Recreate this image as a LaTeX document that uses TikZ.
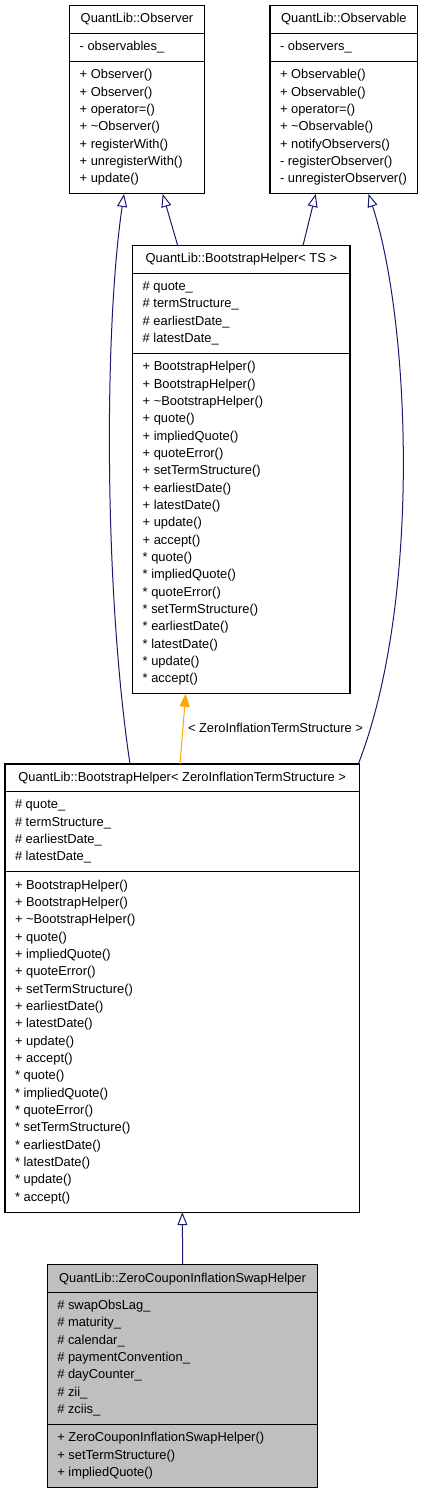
\documentclass[tikz,border=0pt]{standalone}
\usepackage{fontspec}
\setmainfont{Liberation Sans}
\usetikzlibrary{arrows.meta}
\definecolor{edgeblue}{RGB}{25,25,112}
\definecolor{edgeorange}{RGB}{255,165,0}
\definecolor{classgray}{RGB}{191,191,191}
\newcommand\umlfont{\fontsize{12.9}{15.5}\selectfont}
\tikzset{
 titlebox/.style={draw=black, line width=1.1pt, anchor=north west, minimum height=27.6pt, inner sep=0pt, outer sep=0pt, text height=9pt, text depth=2pt, font=\umlfont},
 secbox/.style={draw=black, line width=1.1pt, anchor=north west, inner sep=0pt, outer sep=0pt},
 member/.style={anchor=base west, inner sep=0pt, outer sep=0pt, font=\umlfont},
 inherit/.style={draw=edgeblue, line width=1pt, -{Triangle[open, length=13pt, width=10pt]}},
 instance/.style={draw=edgeorange, line width=1pt, -{Triangle[length=13pt, width=10pt, fill=edgeorange]}},
}
\newcommand\umltitle[6]{%
 \node[titlebox, fill=#5, minimum width=#4] (#1) at (#2,#3) {#6};}
\newcommand\umlsec[6]{%
 \node[secbox, fill=#4, minimum width=#3, minimum height={17.33*#5+11}] (#1) at (#2.south west) {};
 \foreach \txt [count=\k from 0] in {#6} {
   \node[member] (#1-\k) at ([xshift=10, yshift={-17.33*(\k+1)}]#2.south west) {\txt};
 }}
\begin{document}
\begin{tikzpicture}[x=1pt, y=-1pt]
\fill[white] (0,0) rectangle (423,1493);
\useasboundingbox (0,0) rectangle (423,1493);

% Observer
\umltitle{obs}{69.7}{5.7}{134.6}{white}{QuantLib::Observer}
\umlsec{obs-a}{obs}{134.6}{white}{1}{- observables\_}
\umlsec{obs-m}{obs-a}{134.6}{white}{7}{+ Observer(), + Observer(), + operator=(), + \textasciitilde Observer(), + registerWith(), + unregisterWith(), + update()}

% Observable
\umltitle{obl}{270}{5.7}{147.7}{white}{QuantLib::Observable}
\umlsec{obl-a}{obl}{147.7}{white}{1}{- observers\_}
\umlsec{obl-m}{obl-a}{147.7}{white}{7}{+ Observable(), + Observable(), + operator=(), + \textasciitilde Observable(), + notifyObservers(), - registerObserver(), - unregisterObserver()}

% BootstrapHelper< TS >
\umltitle{bhts}{132.7}{245.5}{217.3}{white}{QuantLib::BootstrapHelper< TS >}
\umlsec{bhts-a}{bhts}{217.3}{white}{4}{\# quote\_, \# termStructure\_, \# earliestDate\_, \# latestDate\_}
\umlsec{bhts-m}{bhts-a}{217.3}{white}{19}{+ BootstrapHelper(), + BootstrapHelper(), + \textasciitilde BootstrapHelper(), + quote(), + impliedQuote(), + quoteError(), + setTermStructure(), + earliestDate(), + latestDate(), + update(), + accept(), * quote(), * impliedQuote(), * quoteError(), * setTermStructure(), * earliestDate(), * latestDate(), * update(), * accept()}

% BootstrapHelper< ZeroInflationTermStructure >
\umltitle{bhz}{5}{764}{354.3}{white}{QuantLib::BootstrapHelper< ZeroInflationTermStructure >}
\umlsec{bhz-a}{bhz}{354.3}{white}{4}{\# quote\_, \# termStructure\_, \# earliestDate\_, \# latestDate\_}
\umlsec{bhz-m}{bhz-a}{354.3}{white}{19}{+ BootstrapHelper(), + BootstrapHelper(), + \textasciitilde BootstrapHelper(), + quote(), + impliedQuote(), + quoteError(), + setTermStructure(), + earliestDate(), + latestDate(), + update(), + accept(), * quote(), * impliedQuote(), * quoteError(), * setTermStructure(), * earliestDate(), * latestDate(), * update(), * accept()}

% ZeroCouponInflationSwapHelper
\umltitle{zc}{47.3}{1264.7}{270.4}{classgray}{QuantLib::ZeroCouponInflationSwapHelper}
\umlsec{zc-a}{zc}{270.4}{classgray}{7}{\# swapObsLag\_, \# maturity\_, \# calendar\_, \# paymentConvention\_, \# dayCounter\_, \# zii\_, \# zciis\_}
\umlsec{zc-m}{zc-a}{270.4}{classgray}{3}{+ ZeroCouponInflationSwapHelper(), + setTermStructure(), + impliedQuote()}

% edges
\draw[inherit] ([xshift=125]bhz.north west) .. controls (104,590) and (104,330) .. ([xshift=54.3]obs-m.south west);
\draw[inherit] ([xshift=45]bhts.north west) -- ([xshift=93]obs-m.south west);
\draw[inherit] ([xshift=170.3]bhts.north west) -- ([xshift=45.7]obl-m.south west);
\draw[inherit] ([xshift=353.3]bhz.north west) .. controls (422,600) and (410,320) .. ([xshift=98.5]obl-m.south west);
\draw[instance] ([xshift=175]bhz.north west) -- ([xshift=53]bhts-m.south west);
\node[member] (lbl) at (188,732) {< ZeroInflationTermStructure >};
\draw[inherit] ([xshift=135.4]zc.north west) -- ([xshift=177.3]bhz-m.south west);
\end{tikzpicture}
\end{document}
